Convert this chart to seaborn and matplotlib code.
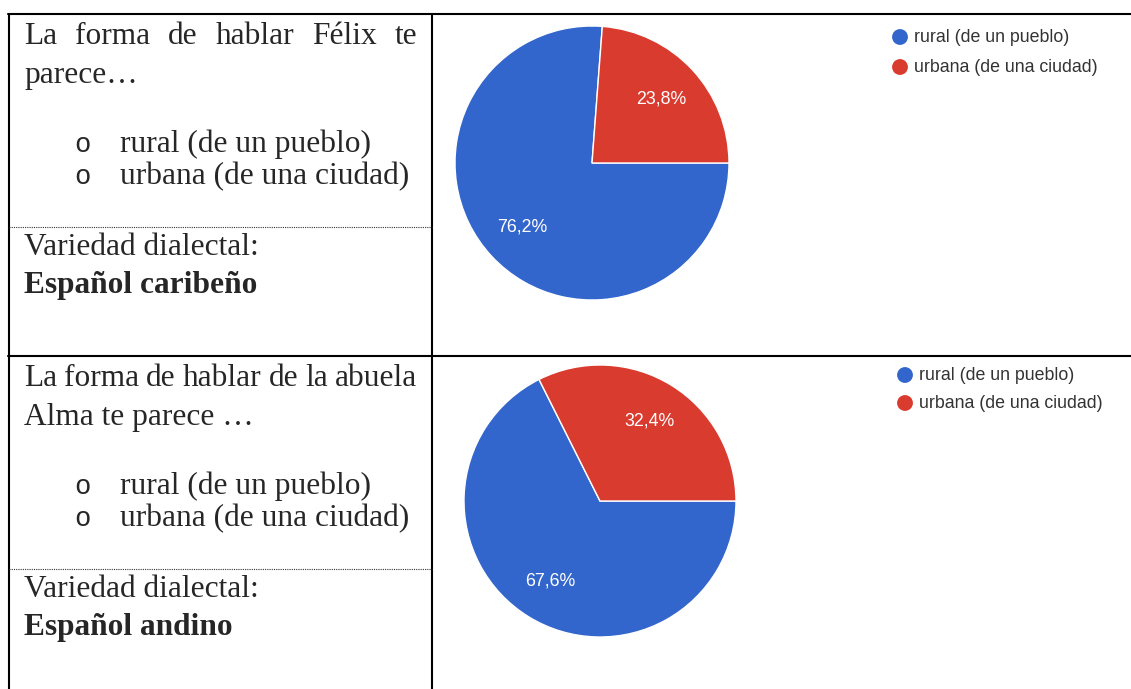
import matplotlib
matplotlib.use("Agg")
import matplotlib.pyplot as plt
import seaborn as sns

# data
categories = ["rural (de un pueblo)", "urbana (de una ciudad)"]
felix_pct = [76.2, 23.8]
alma_pct = [67.6, 32.4]
colors = ["#3366CC", "#DA3B2F"]

felix_question = ["La forma de hablar Félix te", "parece…"]
alma_question = ["La forma de hablar de la abuela", "Alma te parece …"]
variedad_label = "Variedad dialectal:"
felix_variety = "Español caribeño"
alma_variety = "Español andino"

sns.set_style("white")
plt.rcParams["font.family"] = ["Liberation Serif", "DejaVu Serif"]

W, H = 1131, 689
fig = plt.figure(figsize=(W / 100, H / 100), dpi=100)
ax = fig.add_axes([0, 0, 1, 1])
ax.set_xlim(0, W)
ax.set_ylim(H, 0)
ax.axis("off")

SERIF = 22.6
SANS = 12.8
lw = 1.5

# table lines
ax.plot([8, W], [14, 14], color="black", lw=lw)
ax.plot([8, W], [356, 356], color="black", lw=lw)
ax.plot([9, 9], [14, H], color="black", lw=lw)
ax.plot([432, 432], [14, H], color="black", lw=lw)
for y in [227, 569]:
    ax.plot([9, 432], [y, y], color="#333333", lw=0.8, ls=(0, (1, 1)))

renderer = fig.canvas.get_renderer()


def justified(words, x0, x1, y):
    texts = [ax.text(x0, y, w, fontsize=SERIF, va="baseline", ha="left") for w in words]
    inv = ax.transData.inverted()
    widths = []
    for t in texts:
        bb = t.get_window_extent(renderer)
        a = inv.transform((bb.x0, bb.y0))
        b = inv.transform((bb.x1, bb.y1))
        widths.append(b[0] - a[0])
    gap = (x1 - x0 - sum(widths)) / (len(words) - 1)
    x = x0
    for t, w in zip(texts, widths):
        t.set_x(x)
        x += w + gap


def cell(question, variety, top):
    justified(question[0].split(" "), 24, 417, top + 30)
    ax.text(24, top + 69, question[1], fontsize=SERIF, va="baseline")
    for i, c in enumerate(categories):
        yb = top + 138 + i * 32
        ax.text(74, yb, "o", fontsize=SERIF - 3, va="baseline", family="Liberation Mono")
        ax.text(120, yb, c, fontsize=SERIF, va="baseline")
    ax.text(24, top + 241, variedad_label, fontsize=SERIF, va="baseline")
    ax.text(24, top + 279, variety, fontsize=SERIF, va="baseline", fontweight="bold")


cell(felix_question, felix_variety, 14)
cell(alma_question, alma_variety, 356)


def pct(p):
    return f"{p:.1f}%".replace(".", ",")


def pie(values, cx, cy, r, leg_x, leg_y, leg_dy):
    pax = fig.add_axes([(cx - r) / W, 1 - (cy + r) / H, 2 * r / W, 2 * r / H])
    pax.pie(values, colors=colors, startangle=0, counterclock=False,
            autopct=pct, pctdistance=0.69,
            wedgeprops=dict(edgecolor="white", linewidth=1),
            textprops=dict(color="white", fontsize=SANS, family="Liberation Sans"))
    pax.set_xlim(-1, 1)
    pax.set_ylim(-1, 1)
    pax.set_aspect("auto")
    for i, c in enumerate(categories):
        y = leg_y + i * leg_dy
        ax.scatter([leg_x], [y], s=130, color=colors[i], edgecolor="none")
        ax.text(leg_x + 14, y, c, fontsize=SANS, family="Liberation Sans",
                va="center", color="#333333")


pie(felix_pct, 592, 163, 137, 900, 37, 30)
pie(alma_pct, 600, 501, 136, 905, 375, 28)

fig.savefig("out.png", dpi=100)
